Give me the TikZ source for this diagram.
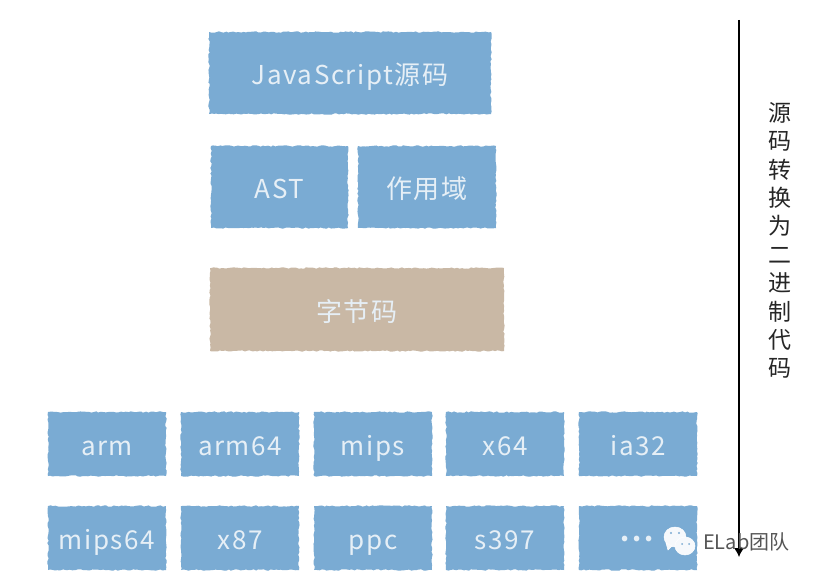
\documentclass[tikz,border=0pt]{standalone}
\usepackage{fontspec}
\setmainfont{Noto Sans CJK SC}
\usetikzlibrary{decorations.pathmorphing,arrows.meta}
\definecolor{boxblue}{HTML}{7AABD3}
\definecolor{boxtan}{HTML}{C9B8A5}
\definecolor{boxtext}{HTML}{E6EFF6}
\definecolor{marktext}{HTML}{555555}
\tikzset{
    roughbox/.style={fill=boxblue, text=boxtext, inner sep=0pt, text height=23pt, text depth=0pt,
        font=\fontsize{26}{26}\selectfont\addfontfeature{LetterSpace=6},
        decorate, decoration={random steps, segment length=2.5pt, amplitude=0.7pt}},
    tanbox/.style={roughbox, fill=boxtan},
    bubble/.style={fill=white!93!boxblue, draw=white, line width=0.5pt}
}
\newcommand{\placebox}[7][roughbox]{\node[#1, minimum width=#5*1pt - #3*1pt, minimum height=#6*1pt - #4*1pt] (#2) at (#3/2 + #5/2, -#4/2 - #6/2) {#7};}
\begin{document}
\begin{tikzpicture}[x=1pt,y=1pt]
    \useasboundingbox (0,0) rectangle (814,-578);
    \placebox{source}{209}{32}{491}{114}{JavaScript源码}
    \placebox{ast}{211}{146}{348}{228}{AST}
    \placebox{scope}{358}{146}{496}{228}{作用域}
    \placebox[tanbox]{bytecode}{210}{268}{504}{351}{字节码}
    \placebox{arm}{48}{412}{166}{476}{arm}
    \placebox{armsf}{181}{412}{299}{476}{arm64}
    \placebox{mips}{314}{412}{432}{476}{mips}
    \placebox{xsf}{446}{412}{564}{476}{x64}
    \placebox{ia}{579}{412}{697}{476}{ia32}
    \placebox{mipssf}{48}{506}{166}{570}{mips64}
    \placebox{xes}{181}{506}{299}{570}{x87}
    \placebox{ppc}{314}{506}{432}{570}{ppc}
    \placebox{sthree}{446}{506}{564}{570}{s397}
    \placebox{more}{579}{506}{697}{570}{\raisebox{8pt}{\textbf{.\hspace{3pt}.\hspace{3pt}.}}}
    % arrow down the right side
    \coordinate (top) at (739,-20);
    \coordinate (bottom) at (739,-557);
    \draw[line width=1.2pt, -{Latex[length=9pt,width=10pt]}] (top) -- (bottom);
    \node[align=center, font=\fontsize{23}{28.4}\selectfont, text=black!85, inner sep=0pt, anchor=north] (steps) at (780,-102)
        {源\\码\\转\\换\\为\\二\\进\\制\\代\\码};
    % watermark
    \fill[bubble] (675,-537) ellipse (11 and 10);
    \fill[bubble] (666,-543) -- (668,-550) -- (672,-546) -- cycle;
    \fill[bubble] (685,-546) ellipse (10 and 9);
    \fill[boxblue] (671,-533) circle (1.2) (679,-533) circle (1.2) (682,-544) circle (1) (689,-544) circle (1);
    \node[font=\fontsize{20}{20}\selectfont, text=marktext, inner sep=0pt, anchor=west] (team) at (703,-542) {ELab团队};
\end{tikzpicture}
\end{document}
